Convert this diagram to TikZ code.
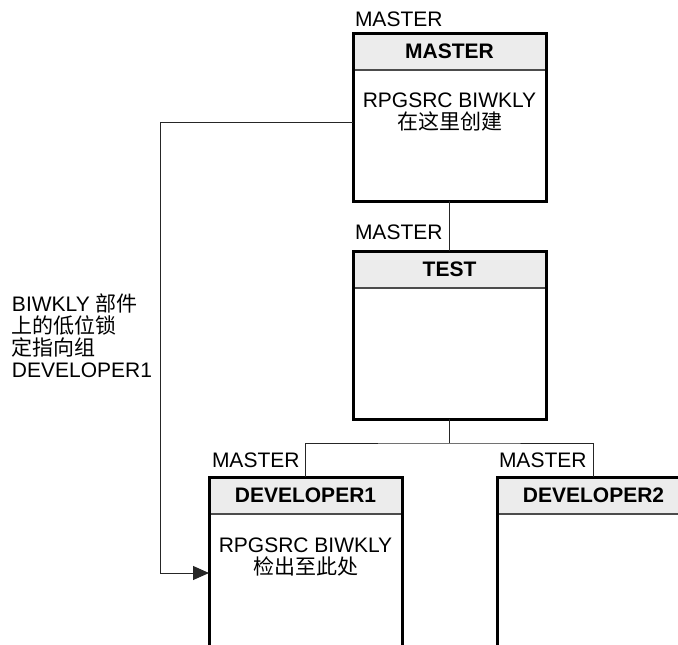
\documentclass[tikz,border=0pt]{standalone}
\usepackage{fontspec}
\setmainfont{Liberation Sans}
\newfontfamily\cjk{Noto Sans CJK SC}
\usetikzlibrary{arrows.meta,calc}
\begin{document}
\begin{tikzpicture}[x=1pt,y=-1pt,
  every node/.style={inner sep=0pt,outer sep=0pt,font=\fontsize{21}{22}\selectfont},
  hdr/.style={fill=gray!15,minimum width=193pt,minimum height=37pt,font=\fontsize{21}{22}\selectfont\bfseries,anchor=north west},
  sepline/.style={draw=black!70,line width=1.5pt},
  boxframe/.style={draw=black,line width=3pt,minimum width=193pt,anchor=north west},
  conn/.style={draw=black!85,line width=1pt},
  lbl/.style={anchor=base west},
  body/.style={align=center,font=\fontsize{21}{22}\selectfont}
]
\useasboundingbox (0,0) rectangle (678,645);

% MASTER
\node[hdr] (mh) at (353,33) {MASTER};
\draw[sepline] (mh.south west) -- (mh.south east);
\node[boxframe,minimum height=168pt] (master) at (353,33) {};
\node[lbl] (lm) at (355,26) {MASTER};
\node[body] (mt) at ($(master.north)+(0,79)$) {RPGSRC BIWKLY\\{\cjk 在这里创建}};

% TEST
\node[hdr] (th) at (353,251) {TEST};
\draw[sepline] (th.south west) -- (th.south east);
\node[boxframe,minimum height=168pt] (test) at (353,251) {};
\node[lbl] (lt) at (355,239) {MASTER};

% DEVELOPER1
\node[hdr] (d1h) at (209,477) {DEVELOPER1};
\draw[sepline] (d1h.south west) -- (d1h.south east);
\node[boxframe,minimum height=190pt] (dev1) at (209,477) {};
\node[lbl] (ld1) at (212,467) {MASTER};
\node[body] (d1t) at ($(dev1.north)+(0,80)$) {RPGSRC BIWKLY\\{\cjk 检出至此处}};

% DEVELOPER2
\node[hdr] (d2h) at (497,477) {DEVELOPER2};
\draw[sepline] (d2h.south west) -- (d2h.south east);
\node[boxframe,minimum height=190pt] (dev2) at (497,477) {};
\node[lbl] (ld2) at (499,467) {MASTER};

% connectors
\draw[conn] (master.south) -- (test.north);
\coordinate (bus) at (449,443);
\draw[conn] (test.south) -- (test.south |- bus);
\draw[conn] (dev1.north) |- (bus) -| (dev2.north);

\coordinate (la) at (160,122);
\coordinate (lb) at (160,573);
\draw[conn,-{Triangle[length=16pt,width=14pt]}] (master.west |- la) -- (la) -- (lb) -- (dev1.west |- lb);

% left label
\node[align=left,anchor=north west] (note) at (12,294) {BIWKLY {\cjk 部件}\\{\cjk 上的低位锁}\\{\cjk 定指向组}\\DEVELOPER1};
\end{tikzpicture}
\end{document}
